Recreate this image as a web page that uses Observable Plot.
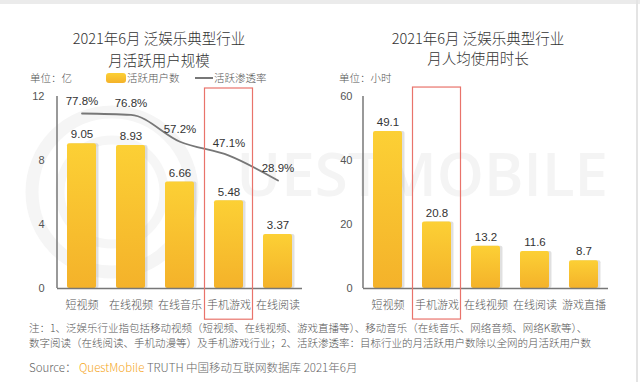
<!DOCTYPE html>
<html><head><meta charset="utf-8">
<script src="https://cdn.jsdelivr.net/npm/d3@7"></script>
<script src="https://cdn.jsdelivr.net/npm/@observablehq/plot@0.6"></script>
<style>
body{margin:0;background:#fff;}
#page{position:relative;width:640px;height:382px;overflow:hidden;font-family:"Noto Sans CJK SC","Noto Sans",sans-serif;color:#555;background:#fff;}
.abs{position:absolute;white-space:nowrap;}
.t{height:20px;line-height:20px;}
.title{font-size:14.5px;color:#333;text-align:center;font-weight:300;}
.small{font-size:10.5px;color:#555;font-weight:300;}
svg{overflow:visible;}
</style></head><body>
<div id="page">
  <div class="abs" style="left:0;top:0;width:640px;height:4px;background:#ebebeb"></div>
  <div class="abs" style="left:636px;top:0;width:2px;height:382px;background:#e4e4e4"></div>
  <svg class="abs" style="left:0;top:0" width="640" height="382">
    <circle cx="112" cy="192" r="80" fill="none" stroke="#f5f5f5" stroke-width="13"/>
    <circle cx="112" cy="192" r="52" fill="none" stroke="#f6f6f6" stroke-width="9"/>
    <text x="608" y="196" text-anchor="end" font-family="Open Sans" font-weight="600" font-size="60" fill="#f4f4f4">UESTMOBILE</text>
  </svg>
  <div class="abs t title" style="left:0;top:28px;width:318px">2021年6月 泛娱乐典型行业</div>
  <div class="abs t title" style="left:0;top:50px;width:318px">月活跃用户规模</div>
  <div class="abs t title" style="left:320px;top:28px;width:316px">2021年6月 泛娱乐典型行业</div>
  <div class="abs t title" style="left:320px;top:48px;width:316px">月人均使用时长</div>
  <div class="abs t small" style="left:30px;top:68px">单位：亿</div>
  <div class="abs t small" style="left:339px;top:68px">单位：小时</div>
  <div class="abs" style="left:106px;top:73px;width:20px;height:10px;border-radius:3px;background:linear-gradient(#FCD035,#F4B22A)"></div>
  <div class="abs t small" style="left:127px;top:68px">活跃用户数</div>
  <div class="abs" style="left:195px;top:77px;width:18px;height:2px;background:#777"></div>
  <div class="abs t small" style="left:214px;top:68px">活跃渗透率</div>
  <div id="left" class="abs" style="left:0;top:80px"></div>
  <div id="right" class="abs" style="left:320px;top:80px"></div>
  <div class="abs t small" style="left:29px;top:318px">注：1、泛娱乐行业指包括移动视频（短视频、在线视频、游戏直播等）、移动音乐（在线音乐、网络音频、网络K歌等）、</div>
  <div class="abs t small" style="left:29px;top:333px">数字阅读（在线阅读、手机动漫等）及手机游戏行业；2、活跃渗透率：目标行业的月活跃用户数除以全网的月活跃用户数</div>
  <div class="abs t" style="left:29px;top:357px;font-size:11.5px;color:#666;font-weight:300">Source： <span style="color:#F5A623">QuestMobile</span> TRUTH 中国移动互联网数据库 2021年6月</div>
</div>
<script>
// ---- data ----
const usersCats = ["短视频","在线视频","在线音乐","手机游戏","在线阅读"];
const usersValues = [9.05, 8.93, 6.66, 5.48, 3.37];
const rateValues = [77.8, 76.8, 57.2, 47.1, 28.9];
const userTicks = [0, 4, 8, 12];
const timeCats = ["短视频","手机游戏","在线视频","在线阅读","游戏直播"];
const timeValues = [49.1, 20.8, 13.2, 11.6, 8.7];
const timeTicks = [0, 20, 40, 60];
const highlight = ["手机游戏"];

const usersData = usersCats.map((c, i) => ({cat: c, v: usersValues[i], rate: rateValues[i]}));
const timeData = timeCats.map((c, i) => ({cat: c, v: timeValues[i]}));

// secondary (rate) axis mapped onto the left value axis
const rateToY = p => 4.27 + 0.0857 * p;

const NS = "http://www.w3.org/2000/svg";
function gradDefs(id) {
  return () => {
    const defs = document.createElementNS(NS, "defs");
    defs.innerHTML = `<linearGradient id="${id}" x1="0" y1="0" x2="0" y2="1"><stop offset="0" stop-color="#FCD035"/><stop offset="1" stop-color="#F4B22A"/></linearGradient>`;
    return defs;
  };
}
const yLine = (index, scales, values, dims) => {
  const l = document.createElementNS(NS, "line");
  l.setAttribute("x1", dims.marginLeft); l.setAttribute("x2", dims.marginLeft);
  l.setAttribute("y1", dims.marginTop); l.setAttribute("y2", dims.height - dims.marginBottom);
  l.setAttribute("stroke", "#777"); l.setAttribute("stroke-width", 1.5);
  return l;
};
const style = {fontSize: "11px", fontFamily: "'Liberation Sans','Noto Sans CJK SC',sans-serif", color: "#555", background: "transparent", overflow: "visible"};

const left = Plot.plot({
  width: 320, height: 240, marginLeft: 57, marginRight: 18, marginTop: 16, marginBottom: 32,
  style,
  x: {domain: usersCats, paddingInner: 0.4, paddingOuter: 0.2},
  y: {domain: [0, 12]},
  marks: [
    gradDefs("gradL"),
    Plot.axisY({ticks: userTicks, tickSize: 0, tickPadding: 13, label: null, fill: "#555", fontSize: 11}),
    Plot.axisX({tickSize: 0, tickPadding: 13, label: null, fill: "#555", fontSize: 11, fontFamily: "'Noto Sans CJK SC'", fontWeight: 300}),
    Plot.barY(usersData, {x: "cat", y: "v", fill: "#999", fillOpacity: 0.3, dx: 2.5, rx: 2}),
    Plot.barY(usersData, {x: "cat", y: "v", fill: "url(#gradL)", rx: 2}),
    Plot.text(usersData, {x: "cat", y: "v", text: d => d.v.toFixed(2), dy: -9, fill: "#333", fontSize: 11.5}),
    Plot.line(usersData, {x: "cat", y: d => rateToY(d.rate), stroke: "#777", strokeWidth: 1.8, curve: "monotone-x"}),
    Plot.text(usersData, {x: "cat", y: d => rateToY(d.rate), text: d => d.rate.toFixed(1) + "%", dy: -12, fill: "#333", fontSize: 11.5}),
    Plot.ruleY([0], {stroke: "#777", strokeWidth: 1.5}),
    yLine,
    Plot.barY(highlight, {x: d => d, y1: -1.95, y2: 12.5, fill: "none", stroke: "#E9736B", strokeWidth: 1.2, insetLeft: -9.5, insetRight: -9.5})
  ]
});
document.getElementById("left").appendChild(left);

const right = Plot.plot({
  width: 320, height: 240, marginLeft: 43, marginRight: 32, marginTop: 16, marginBottom: 32,
  style,
  x: {domain: timeCats, paddingInner: 0.4, paddingOuter: 0.2},
  y: {domain: [0, 60]},
  marks: [
    gradDefs("gradR"),
    Plot.axisY({ticks: timeTicks, tickSize: 0, tickPadding: 11, label: null, fill: "#555", fontSize: 11}),
    Plot.axisX({tickSize: 0, tickPadding: 13, label: null, fill: "#555", fontSize: 11, fontFamily: "'Noto Sans CJK SC'", fontWeight: 300}),
    Plot.barY(timeData, {x: "cat", y: "v", fill: "#999", fillOpacity: 0.3, dx: 2.5, rx: 2}),
    Plot.barY(timeData, {x: "cat", y: "v", fill: "url(#gradR)", rx: 2}),
    Plot.text(timeData, {x: "cat", y: "v", text: d => d.v.toFixed(1), dy: -9, fill: "#333", fontSize: 11.5}),
    Plot.ruleY([0], {stroke: "#777", strokeWidth: 1.5}),
    yLine,
    Plot.barY(highlight, {x: d => d, y1: -9.7, y2: 62.8, fill: "none", stroke: "#E9736B", strokeWidth: 1.2, insetLeft: -9.5, insetRight: -9.5})
  ]
});
document.getElementById("right").appendChild(right);
</script>
</body></html>
